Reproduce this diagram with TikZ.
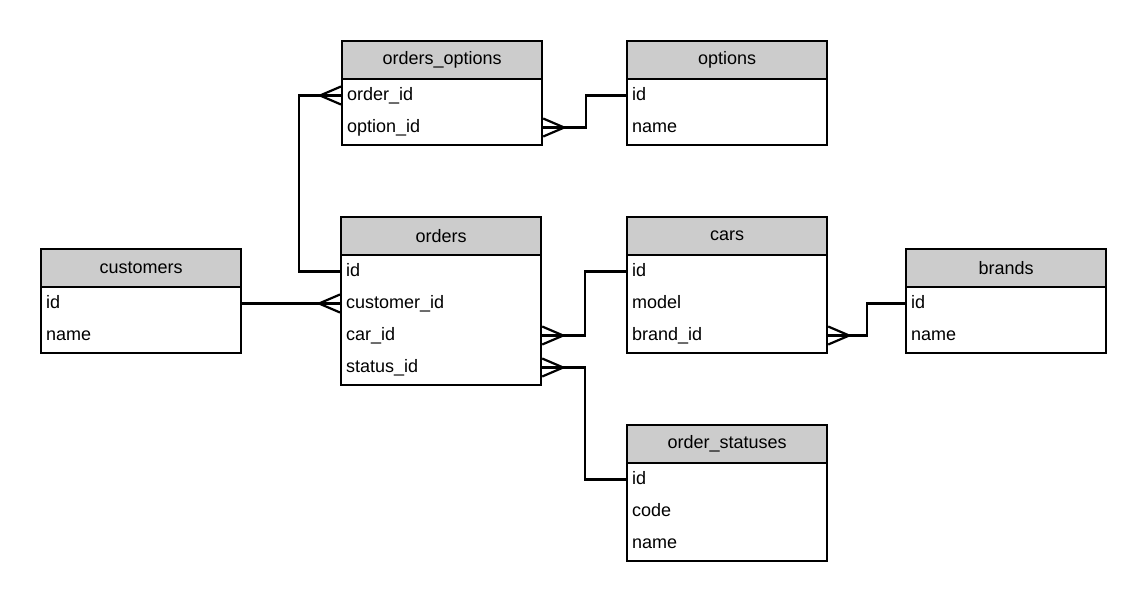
\documentclass[tikz,border=0pt]{standalone}
\usepackage{fontspec}
\setmainfont{Liberation Sans}
\definecolor{hdrgray}{HTML}{CCCCCC}
\tikzset{
  hdr/.style={draw, fill=hdrgray, minimum width=200, minimum height=38, inner sep=0pt, anchor=north west},
  tbody/.style={draw, fill=white, minimum width=200, anchor=north west, inner sep=0pt},
  fld/.style={anchor=west, inner sep=0pt, text height=13pt, text depth=4pt},
}
\newcommand{\crowfoot}[2]{\draw (#1) ++(0,-9) -- ++(#2*21,9) -- ++(-#2*21,9);}
\begin{document}
\begin{tikzpicture}[x=1pt,y=-1pt, line width=2.2pt, font=\fontsize{18}{22}\selectfont]
\useasboundingbox (0,0) rectangle (1145,600);
\fill[white] (0,0) rectangle (1145,600);

% orders_options
\node[hdr] (oo-h) at (341,40) {orders\_options};
\node[tbody, minimum height=66] (oo-b) at (341,78) {};
\node[fld] (oo-order) at ([xshift=5pt,yshift=-17.5pt]oo-b.north west) {order\_id};
\node[fld] (oo-option) at ([xshift=5pt,yshift=-49.5pt]oo-b.north west) {option\_id};

% options
\node[hdr] (opt-h) at (626,40) {options};
\node[tbody, minimum height=66] (opt-b) at (626,78) {};
\node[fld] (opt-id) at ([xshift=5pt,yshift=-17.5pt]opt-b.north west) {id};
\node[fld] (opt-name) at ([xshift=5pt,yshift=-49.5pt]opt-b.north west) {name};

% orders
\node[hdr] (ord-h) at (340,216) {orders};
\node[tbody, minimum height=130] (ord-b) at (340,254) {};
\node[fld] (ord-id) at ([xshift=5pt,yshift=-17.5pt]ord-b.north west) {id};
\node[fld] (ord-cust) at ([xshift=5pt,yshift=-49.5pt]ord-b.north west) {customer\_id};
\node[fld] (ord-car) at ([xshift=5pt,yshift=-81.5pt]ord-b.north west) {car\_id};
\node[fld] (ord-status) at ([xshift=5pt,yshift=-113.5pt]ord-b.north west) {status\_id};

% customers
\node[hdr] (cust-h) at (40,248) {customers};
\node[tbody, minimum height=66] (cust-b) at (40,286) {};
\node[fld] (cust-id) at ([xshift=5pt,yshift=-17.5pt]cust-b.north west) {id};
\node[fld] (cust-name) at ([xshift=5pt,yshift=-49.5pt]cust-b.north west) {name};

% cars
\node[hdr] (cars-h) at (626,216) {cars};
\node[tbody, minimum height=98] (cars-b) at (626,254) {};
\node[fld] (cars-id) at ([xshift=5pt,yshift=-17.5pt]cars-b.north west) {id};
\node[fld] (cars-model) at ([xshift=5pt,yshift=-49.5pt]cars-b.north west) {model};
\node[fld] (cars-brand) at ([xshift=5pt,yshift=-81.5pt]cars-b.north west) {brand\_id};

% brands
\node[hdr] (br-h) at (905,248) {brands};
\node[tbody, minimum height=66] (br-b) at (905,286) {};
\node[fld] (br-id) at ([xshift=5pt,yshift=-17.5pt]br-b.north west) {id};
\node[fld] (br-name) at ([xshift=5pt,yshift=-49.5pt]br-b.north west) {name};

% order_statuses
\node[hdr] (os-h) at (626,424) {order\_statuses};
\node[tbody, minimum height=98] (os-b) at (626,462) {};
\node[fld] (os-id) at ([xshift=5pt,yshift=-17.5pt]os-b.north west) {id};
\node[fld] (os-code) at ([xshift=5pt,yshift=-49.5pt]os-b.north west) {code};
\node[fld] (os-name) at ([xshift=5pt,yshift=-81.5pt]os-b.north west) {name};

% connectors
\coordinate (c1) at ([xshift=-41pt]ord-b.west |- ord-id);
\draw (ord-b.west |- ord-id) -- (c1) |- (oo-b.west |- oo-order);
\crowfoot{oo-b.west |- oo-order}{-1}

\coordinate (c2) at ([xshift=43pt]oo-b.east |- oo-option);
\draw (oo-b.east |- oo-option) -- (c2) |- (opt-b.west |- opt-id);
\crowfoot{oo-b.east |- oo-option}{1}

\draw (cust-b.east |- cust-id) -- (ord-b.west |- ord-cust);
\crowfoot{ord-b.west |- ord-cust}{-1}

\coordinate (c4) at ([xshift=43pt]ord-b.east |- ord-car);
\draw (ord-b.east |- ord-car) -- (c4) |- (cars-b.west |- cars-id);
\crowfoot{ord-b.east |- ord-car}{1}

\coordinate (c5) at ([xshift=43pt]ord-b.east |- ord-status);
\draw (ord-b.east |- ord-status) -- (c5) |- (os-b.west |- os-id);
\crowfoot{ord-b.east |- ord-status}{1}

\coordinate (c6) at ([xshift=39pt]cars-b.east |- cars-brand);
\draw (cars-b.east |- cars-brand) -- (c6) |- (br-b.west |- br-id);
\crowfoot{cars-b.east |- cars-brand}{1}
\end{tikzpicture}
\end{document}
